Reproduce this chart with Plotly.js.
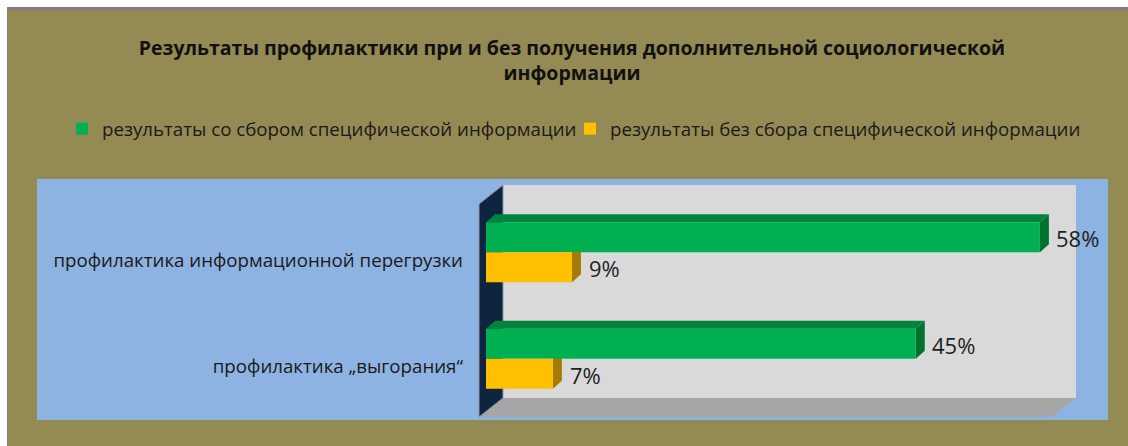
<!DOCTYPE html>
<html>
<head>
<meta charset="utf-8">
<script src="https://cdn.plot.ly/plotly-3.0.1.min.js"></script>
<style>html,body{margin:0;padding:0;background:#fff;}#chart{width:1128px;height:446px;}</style>
</head>
<body>
<div id="chart"></div>
<script>
// ---- data ----
const chartTitle = 'Результаты профилактики при и без получения дополнительной социологической<br>информации';
const categories = ['профилактика информационной перегрузки', 'профилактика „выгорания“'];
const seriesNames = ['результаты со сбором специфической информации', 'результаты без сбора специфической информации'];
const withInfo = [58, 45];      // green
const withoutInfo = [9, 7];     // yellow
const xMax = 60;

// ---- styles / geometry ----
const W = 1128, H = 446;
const M = {l: 486, r: 69, t: 199, b: 34};
const PW = W - M.l - M.r, PH = H - M.t - M.b;
const GREEN = '#00B050', GREEN_TOP = '#00843D', GREEN_SIDE = '#00722F';
const YELLOW = '#FFC000', YELLOW_SIDE = '#A67C00';
const FONT = 'Open Sans, Noto Sans, sans-serif';
const BARGAP = 0.4366;
const barW = (1 - BARGAP) / 2;

const pos = categories.map((c, i) => i);
const yRange = [categories.length - 0.5, -0.5];
const pxX = PW / xMax;                 // px per unit x
const pxY = PH / categories.length;    // px per category
const BAR_DX = 9, BAR_DY = 8;          // bar depth in px
const dxu = BAR_DX / pxX, dyu = BAR_DY / pxY;

// paper coordinate helpers (for the 3D box around the plot)
const fx = p => (p - M.l) / PW;
const fy = p => (M.t + PH - p) / PH;
const BACK = {dx: 17, dy: -14}, FRONT = {dx: -7, dy: 5};
const L0 = M.l, R0 = M.l + PW, T0 = M.t, B0 = M.t + PH;

function poly(pts) { return 'M' + pts.map(p => p[0] + ',' + p[1]).join('L') + 'Z'; }
function paperPoly(pts) { return poly(pts.map(p => [fx(p[0]), fy(p[1])])); }

const shapes = [];
// frame and background
shapes.push({type: 'rect', xref: 'paper', yref: 'paper', layer: 'below', x0: fx(7), x1: fx(W), y0: fy(7), y1: fy(H), fillcolor: '#7F7F7F', line: {width: 0}});
shapes.push({type: 'rect', xref: 'paper', yref: 'paper', layer: 'below', x0: fx(8), x1: fx(W), y0: fy(10), y1: fy(H), fillcolor: '#948A54', line: {width: 0}});
shapes.push({type: 'rect', xref: 'paper', yref: 'paper', layer: 'below', x0: fx(37), x1: fx(1108), y0: fy(179), y1: fy(420), fillcolor: '#8DB3E2', line: {width: 0}});
// back wall
shapes.push({type: 'rect', xref: 'paper', yref: 'paper', layer: 'below',
  x0: fx(L0 + BACK.dx), x1: fx(R0 + BACK.dx), y0: fy(T0 + BACK.dy), y1: fy(B0 + BACK.dy),
  fillcolor: '#D9D9D9', line: {width: 0}});
// floor
shapes.push({type: 'path', xref: 'paper', yref: 'paper', layer: 'below',
  path: paperPoly([[L0 + FRONT.dx, B0 + FRONT.dy], [R0 + FRONT.dx, B0 + FRONT.dy], [R0 + BACK.dx, B0 + BACK.dy], [L0 + BACK.dx, B0 + BACK.dy]]),
  fillcolor: '#A6A6A6', line: {width: 0}});
// side wall
shapes.push({type: 'path', xref: 'paper', yref: 'paper', layer: 'below',
  path: paperPoly([[L0 + FRONT.dx, T0 + FRONT.dy], [L0 + BACK.dx, T0 + BACK.dy], [L0 + BACK.dx, B0 + BACK.dy], [L0 + FRONT.dx, B0 + FRONT.dy]]),
  fillcolor: '#0F243E', line: {width: 1, color: '#8A96A8'}});

// 3D faces of bars (data coordinates)
pos.forEach((p, i) => {
  const g = withInfo[i], yv = withoutInfo[i];
  const gt = p - barW, gb = p;          // green top / bottom (reversed axis)
  const yt = p, yb = p + barW;          // yellow
  shapes.push({type: 'path', xref: 'x', yref: 'y', layer: 'below', fillcolor: GREEN_TOP, line: {width: 0},
    path: poly([[0, gt], [g, gt], [g + dxu, gt - dyu], [dxu, gt - dyu]])});
  shapes.push({type: 'path', xref: 'x', yref: 'y', layer: 'below', fillcolor: GREEN_SIDE, line: {width: 0},
    path: poly([[g, gt], [g + dxu, gt - dyu], [g + dxu, gb - dyu], [g, gb]])});
  shapes.push({type: 'path', xref: 'x', yref: 'y', layer: 'below', fillcolor: YELLOW_SIDE, line: {width: 0},
    path: poly([[yv, yt], [yv + dxu, yt - dyu], [yv + dxu, yb - dyu], [yv, yb]])});
});

// value labels
const annotations = [];
pos.forEach((p, i) => {
  annotations.push({x: withInfo[i], y: p - barW / 2, xref: 'x', yref: 'y', text: withInfo[i] + '%', showarrow: false,
    xanchor: 'left', yanchor: 'middle', xshift: BAR_DX + 5, yshift: -1, font: {family: FONT, size: 22, color: '#1F1F1F'}});
  annotations.push({x: withoutInfo[i], y: p + barW / 2, xref: 'x', yref: 'y', text: withoutInfo[i] + '%', showarrow: false,
    xanchor: 'left', yanchor: 'middle', xshift: BAR_DX + 6, yshift: -1, font: {family: FONT, size: 22, color: '#1F1F1F'}});
});

const traces = [
  {type: 'bar', orientation: 'h', name: seriesNames[0], x: withInfo, y: pos, marker: {color: GREEN}, hoverinfo: 'skip', legendwidth: 463},
  {type: 'bar', orientation: 'h', name: seriesNames[1], x: withoutInfo, y: pos, marker: {color: YELLOW}, hoverinfo: 'skip'}
];

const layout = {
  width: W, height: H,
  margin: M,
  paper_bgcolor: '#FFFFFF', plot_bgcolor: 'rgba(0,0,0,0)',
  barmode: 'group', bargap: BARGAP, bargroupgap: 0,
  hovermode: false,
  title: {text: chartTitle, x: 572 / W, xref: 'container', xanchor: 'center', y: 1 - 55 / H, yref: 'container', yanchor: 'top',
    font: {family: FONT, size: 19.5, color: '#111111', weight: 'bold'}},
  showlegend: true,
  legend: {orientation: 'h', xref: 'paper', yref: 'paper', x: fx(62), xanchor: 'left', y: fy(129), yanchor: 'middle',
    bgcolor: 'rgba(0,0,0,0)', font: {family: FONT, size: 18.7, color: '#1A1A1A'}, traceorder: 'normal'},
  xaxis: {range: [0, xMax], showgrid: false, zeroline: false, showticklabels: false, ticks: '', showline: false, fixedrange: true},
  yaxis: {range: yRange, tickvals: pos, ticktext: categories, showgrid: false, zeroline: false, ticks: '', showline: false,
    ticklabelstandoff: 22, ticklabelshift: -8, tickfont: {family: FONT, size: 18.7, color: '#1A1A1A'}, fixedrange: true},
  shapes: shapes,
  annotations: annotations
};

Plotly.newPlot('chart', traces, layout, {displayModeBar: false, staticPlot: true});
</script>
</body>
</html>
